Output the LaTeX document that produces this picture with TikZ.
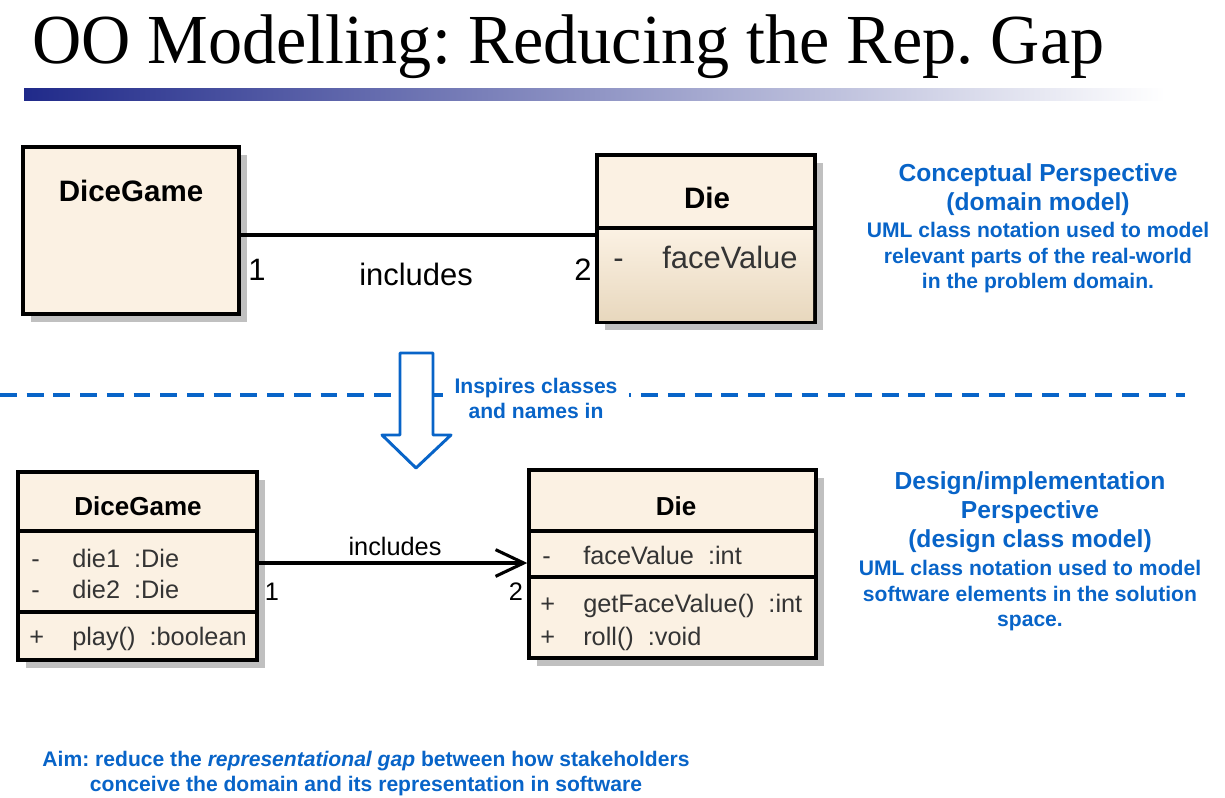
\documentclass[tikz,border=0pt]{standalone}
\usepackage{fontspec}
\setmainfont{Liberation Serif}
\newfontfamily\umlsans{Liberation Sans}
\usetikzlibrary{arrows.meta,shadows}
\definecolor{umlfill}{RGB}{251,241,227}
\definecolor{umltan}{RGB}{232,216,190}
\definecolor{shadowgray}{RGB}{192,192,192}
\definecolor{inkblue}{RGB}{8,100,200}
\definecolor{barblue}{RGB}{32,42,138}
\definecolor{membergray}{RGB}{52,52,52}
\newcommand\fsz[2]{\fontsize{#1}{#2}\selectfont}
\frenchspacing

\begin{document}
\begin{tikzpicture}[x=0.025cm, y=-0.025cm,
    classbox/.style={draw, line width=2.4pt, fill=umlfill,
      drop shadow={shadow xshift=0.2cm, shadow yshift=-0.2cm, fill=shadowgray, opacity=1}},
    divider/.style={line width=2.2pt},
    bigname/.style={font=\umlsans\bfseries\fsz{21}{25}, anchor=base},
    smallname/.style={font=\umlsans\bfseries\fsz{18.5}{22}, anchor=base},
    bigmember/.style={font=\umlsans\fsz{22}{26}, text=membergray, anchor=base west},
    smallmember/.style={font=\umlsans\fsz{18}{22}, text=membergray, anchor=base west},
    bigmult/.style={font=\umlsans\fsz{22}{26}, anchor=base},
    smallmult/.style={font=\umlsans\fsz{18}{22}, anchor=base},
    assoc/.style={line width=2.4pt},
    headline/.style={font=\umlsans\bfseries\fsz{17.5}{20.8}, text=inkblue, align=center, anchor=north},
    remark/.style={font=\umlsans\bfseries\fsz{15}{18.1}, text=inkblue, align=center, anchor=north}]
  \tikzstyle{every node}+=[inner sep=0pt]
  \useasboundingbox (0,0) rectangle (1225,797);

  \node[anchor=base west] (title) at (32,63) {\scalebox{0.97}[1]{\fsz{50}{56}OO Modelling: Reducing the Rep. Gap}};
  \shade[left color=barblue, right color=white] (24,88) rectangle (1165,100);

  \node[classbox, minimum width=5.4cm, minimum height=4.175cm] (dgA) at (131,230.5) {};
  \node[bigname] (dgAname) at (131,201) {DiceGame};

  \node[classbox, minimum width=5.45cm, minimum height=4.175cm] (dieA) at (706,238.5) {};
  \shade[top color=umlfill, bottom color=umltan] (599,230) rectangle (813,320);
  \draw[divider] (597,228) -- (815,228);
  \node[bigname] (dieAname) at (707,208) {Die};
  \node[bigmember] (dieAvis) at (613,268) {-};
  \node[bigmember] (dieAattr) at (662,268) {faceValue};

  \coordinate (assocA) at (416,235);
  \draw[assoc] (dgA.east |- assocA) -- (dieA.west |- assocA);
  \node[bigmult] (dgAmult) at (257,280) {1};
  \node[bigmult] (assocAlabel) at (416,285) {includes};
  \node[bigmult] (dieAmult) at (583,280) {2};

  \draw[inkblue, line width=2.8pt, dash pattern=on 12pt off 7pt] (0,395) -- (1185,395);
  \draw[inkblue, line width=2.1pt, fill=white, line join=round] (400,353) -- (433,353) -- (433,435) -- (451,435) -- (416,468) -- (382,435) -- (400,435) -- cycle;
  \node[remark, fill=white, inner xsep=8.5pt, inner ysep=2pt] (inspires) at (536,375) {Inspires classes\\and names in};

  \node[classbox, minimum width=5.975cm, minimum height=4.7cm] (dgB) at (137.5,566) {};
  \draw[divider] (18,531) -- (257,531);
  \draw[divider] (18,612) -- (257,612);
  \node[smallname] (dgBname) at (138,515) {DiceGame};
  \node[smallmember] (dgBvis1) at (31,567) {-};
  \node[smallmember] (dgBattr1) at (72,567) {die1\ \ :Die};
  \node[smallmember] (dgBvis2) at (31,598) {-};
  \node[smallmember] (dgBattr2) at (72,598) {die2\ \ :Die};
  \node[smallmember] (dgBvis3) at (29,645) {+};
  \node[smallmember] (dgBop1) at (72,645) {play()\ \ :boolean};

  \node[classbox, minimum width=7.175cm, minimum height=4.7cm] (dieB) at (672.5,564) {};
  \draw[divider] (529,531) -- (816,531);
  \draw[divider] (529,577) -- (816,577);
  \node[smallname] (dieBname) at (676,515) {Die};
  \node[smallmember] (dieBvis1) at (542,564) {-};
  \node[smallmember] (dieBattr1) at (583,564) {faceValue\ \ :int};
  \node[smallmember] (dieBvis2) at (540,612) {+};
  \node[smallmember] (dieBop1) at (583,612) {getFaceValue()\ \ :int};
  \node[smallmember] (dieBvis3) at (540,645) {+};
  \node[smallmember] (dieBop2) at (583,645) {roll()\ \ :void};

  \coordinate (assocB) at (395,563);
  \draw[assoc, -{Straight Barb[length=20pt, width=19pt, line width=2.2pt]}] (dgB.east |- assocB) -- (dieB.west |- assocB);
  \node[smallmult] (assocBlabel) at (395,555) {includes};
  \node[smallmult] (dgBmult) at (272,600) {1};
  \node[smallmult] (dieBmult) at (516,600) {2};

  \node[headline] (concHead) at (1038,163) {Conceptual Perspective\\(domain model)};
  \node[remark] (concText) at (1038,222) {UML class notation used to model\\relevant parts of the real-world\\in the problem domain.};
  \node[headline] (designHead) at (1030,471) {Design/implementation\\Perspective\\(design class model)};
  \node[remark] (designText) at (1030,560) {UML class notation used to model\\software elements in the solution\\space.};
  \node[remark, font=\umlsans\bfseries\fsz{15}{17.8}] (aim) at (366,751) {Aim: reduce the \textit{representational gap} between how stakeholders\\conceive the domain and its representation in software};
\end{tikzpicture}
\end{document}
